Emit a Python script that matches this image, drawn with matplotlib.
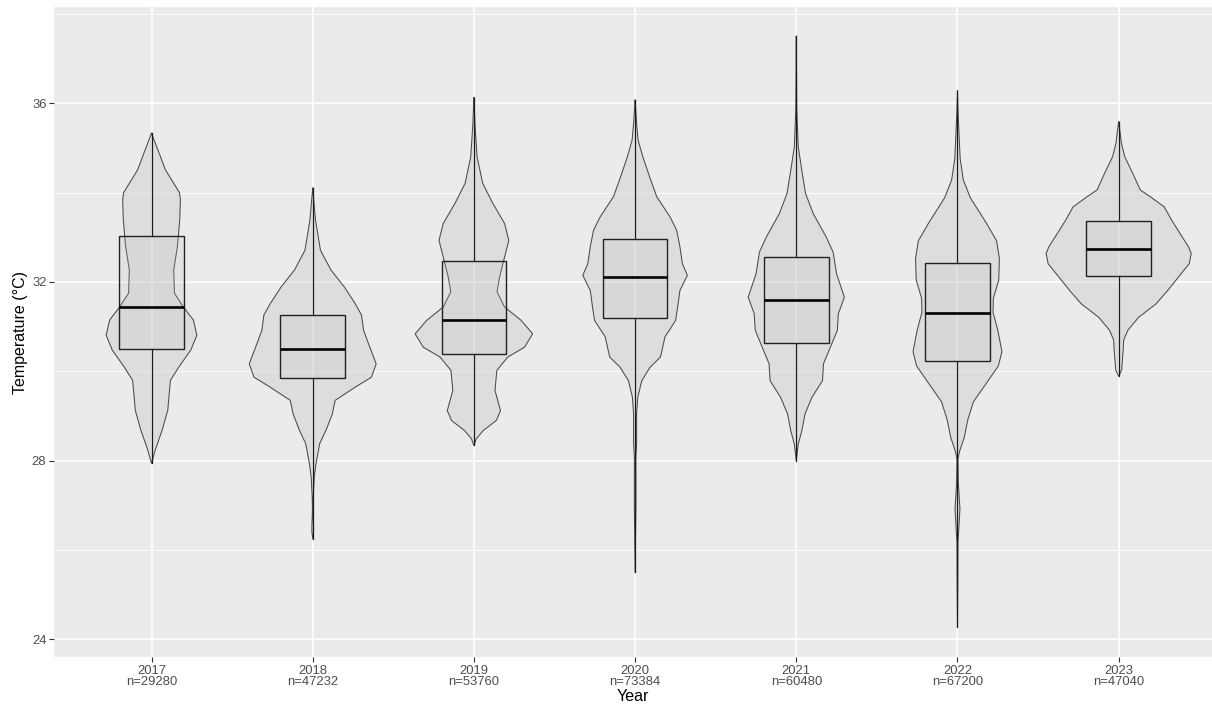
import numpy as np
import matplotlib.pyplot as plt

plt.rcParams['font.family'] = ['Liberation Sans', 'DejaVu Sans']

years = ["2017", "2018", "2019", "2020", "2021", "2022", "2023"]
counts = [29280, 47232, 53760, 73384, 60480, 67200, 47040]

# violin outlines: temperature and relative density
temp_2017 = [35.33, 34.88, 34.51, 34.00, 33.84, 33.39, 32.79, 32.27, 31.75, 31.45,
             31.15, 30.81, 30.48, 30.10, 29.80, 29.43, 29.13, 28.69, 28.24, 27.94]
dens_2017 = [0, .106, .192, .385, .398, .389, .357, .306, .316, .435,
             .577, .625, .543, .378, .261, .240, .224, .148, .052, 0]

temp_2018 = [34.10, 33.39, 32.71, 32.27, 31.89, 31.52, 31.26, 30.92, 30.62, 30.17,
             29.87, 29.65, 29.35, 29.05, 28.68, 28.38, 27.93, 27.63, 27.18, 26.90,
             26.55, 26.40, 26.25]
dens_2018 = [0, .038, .107, .251, .435, .584, .673, .701, .769, .875,
             .810, .591, .309, .271, .183, .096, .045, .021, .007, .004,
             .011, .011, 0]

temp_2019 = [36.13, 35.55, 34.80, 34.21, 33.76, 33.31, 32.93, 32.56, 32.11, 31.78,
             31.44, 31.14, 30.84, 30.54, 30.32, 30.02, 29.57, 29.12, 28.90, 28.67,
             28.49, 28.34]
dens_2019 = [0, .014, .044, .121, .261, .423, .481, .423, .354, .319,
             .423, .652, .810, .698, .467, .316, .291, .367, .309, .126,
             .034, 0]

temp_2020 = [36.07, 35.55, 35.18, 34.80, 34.36, 33.91, 33.46, 33.16, 32.79, 32.41,
             32.15, 31.81, 31.44, 31.14, 30.77, 30.32, 30.09, 29.79, 29.42, 29.05,
             28.40, 28.07, 27.03, 25.50]
dens_2020 = [0, .021, .041, .107, .199, .298, .481, .573, .618, .652,
             .721, .618, .587, .559, .412, .350, .206, .092, .037, .021,
             .021, .010, .011, 0]

temp_2021 = [37.50, 35.85, 35.03, 34.50, 33.98, 33.53, 33.01, 32.67, 32.19, 31.66,
             31.29, 30.92, 30.54, 30.17, 29.79, 29.42, 29.05, 28.67, 28.37, 28.00]
dens_2021 = [0, .007, .027, .076, .128, .234, .412, .508, .554, .663,
             .580, .566, .470, .375, .361, .217, .121, .076, .027, 0]

temp_2022 = [36.28, 35.72, 34.76, 34.28, 33.88, 33.32, 32.92, 32.52, 32.04, 31.64,
             31.32, 30.92, 30.44, 30.12, 29.72, 29.32, 28.92, 28.52, 28.20, 28.04,
             27.52, 26.92, 26.16, 25.24, 24.28]
dens_2022 = [0, .010, .037, .081, .179, .398, .540, .578, .569, .495,
             .490, .556, .613, .563, .393, .220, .143, .093, .027, .007,
             .011, .034, .007, .005, 0]

temp_2023 = [35.59, 35.33, 35.10, 34.80, 34.43, 34.06, 33.91, 33.68, 33.38, 33.08,
             32.79, 32.64, 32.41, 32.11, 31.81, 31.51, 31.21, 30.92, 30.70, 30.47,
             30.33, 30.03, 29.89]
dens_2023 = [0, .021, .038, .085, .195, .298, .435, .629, .732, .848,
             .962, 1.0, .973, .824, .676, .515, .275, .126, .069, .062,
             .055, .041, 0]

# box stats
q1 = [30.50, 29.86, 30.39, 31.20, 30.63, 30.24, 32.14]
median = [31.45, 30.49, 31.14, 32.11, 31.59, 31.30, 32.73]
q3 = [33.04, 31.27, 32.47, 32.96, 32.56, 32.42, 33.37]
whisk_lo = [27.94, 26.25, 28.34, 25.50, 28.00, 24.28, 29.89]
whisk_hi = [35.33, 34.10, 36.13, 36.07, 37.50, 36.28, 35.59]

violins = [(temp_2017, dens_2017), (temp_2018, dens_2018), (temp_2019, dens_2019),
           (temp_2020, dens_2020), (temp_2021, dens_2021), (temp_2022, dens_2022),
           (temp_2023, dens_2023)]

W, H = 1212, 708
fig = plt.figure(figsize=(W / 100, H / 100), dpi=100)
ax = fig.add_axes([54 / W, 1 - 657 / H, (W - 54) / W, (657 - 7) / H])
ax.set_facecolor('#EBEBEB')

pos = np.arange(1, len(years) + 1)
half_max = 0.45
box_w = 0.4

for i, (t, d) in enumerate(violins):
  t = np.array(t)
  d = np.array(d) * half_max
  xs = np.concatenate([pos[i] + d, (pos[i] - d)[::-1]])
  ys = np.concatenate([t, t[::-1]])
  ax.fill(xs, ys, facecolor='#BEBEBE', alpha=0.3, zorder=2)
  ax.plot(xs, ys, color='#4a4a4a', lw=0.75, zorder=3)

for i in range(len(years)):
  p = pos[i]
  ax.plot([p, p], [q3[i], whisk_hi[i]], color='#1a1a1a', lw=0.9, zorder=4)
  ax.plot([p, p], [whisk_lo[i], q1[i]], color='#1a1a1a', lw=0.9, zorder=4)
  ax.bar(p, q3[i] - q1[i], bottom=q1[i], width=box_w, color='#BEBEBE', alpha=0.18,
         zorder=4)
  ax.bar(p, q3[i] - q1[i], bottom=q1[i], width=box_w, fill=False,
         edgecolor='#222222', lw=1.0, zorder=5)
  ax.plot([p - box_w / 2, p + box_w / 2], [median[i], median[i]], color='black',
          lw=1.9, solid_capstyle='butt', zorder=6)

ax.set_xlim(0.395, 7.579)
ax.set_ylim(23.605, 38.156)
ax.set_yticks([24, 28, 32, 36])
ax.set_yticks([26, 30, 34, 38], minor=True)
ax.set_xticks(pos)
ax.set_xticklabels([f"{y}\nn={c}" for y, c in zip(years, counts)], linespacing=0.9)

ax.grid(which='major', color='white', lw=1.2)
ax.grid(which='minor', axis='y', color='white', lw=0.6)
ax.set_axisbelow(True)
for s in ax.spines.values():
  s.set_visible(False)
ax.tick_params(which='major', length=3.6, width=0.8, color='#333333',
               labelcolor='#4D4D4D', labelsize=9.4, pad=1.8)
ax.tick_params(which='minor', length=0)

ax.set_xlabel("Year", fontsize=11.5, labelpad=1)
ax.set_ylabel("Temperature (°C)", fontsize=11.5, labelpad=3)

fig.savefig("out.png", dpi=100)
